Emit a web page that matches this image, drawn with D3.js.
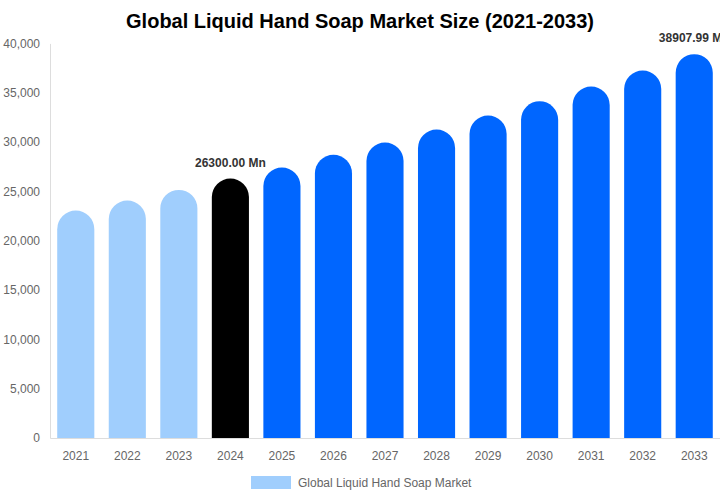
<!DOCTYPE html>
<html>
<head>
<meta charset="utf-8">
<script src="https://cdn.jsdelivr.net/npm/d3@7"></script>
<style>
  body { margin: 0; background: #fff; }
  svg { font-family: "Liberation Sans", Arial, sans-serif; }
</style>
</head>
<body>
<div id="chart"></div>
<script>
var years = ["2021", "2022", "2023", "2024", "2025", "2026", "2027", "2028", "2029", "2030", "2031", "2032", "2033"];
var values = [23050, 24070, 25150, 26300, 27420, 28700, 29950, 31270, 32690, 34140, 35630, 37250, 38907.99];
var yTicks = [0, 5000, 10000, 15000, 20000, 25000, 30000, 35000, 40000];
var labelled = ["2024", "2033"];
var seriesName = "Global Liquid Hand Soap Market";

var w = 720, h = 500;
var plotLeft = 50, plotRight = 720, plotTop = 43.4, plotBottom = 438;

var svg = d3.select("#chart").append("svg")
    .attr("width", w)
    .attr("height", h);

var x = d3.scaleBand().domain(years).range([plotLeft, plotRight])
    .paddingInner(0.28).paddingOuter(0.14);
var y = d3.scaleLinear().domain([0, 40000]).range([plotBottom, plotTop]);

function barColor(yr) {
    if (yr < "2024") return "#a0cefd";
    if (yr == "2024") return "#000000";
    return "#0066ff";
}

// title
svg.append("text")
    .attr("x", 360)
    .attr("y", 28)
    .attr("text-anchor", "middle")
    .attr("font-size", "20px")
    .attr("font-weight", "bold")
    .attr("fill", "#000")
    .text("Global Liquid Hand Soap Market Size (2021-2033)");

// y axis
var yAxis = svg.append("g")
    .attr("transform", "translate(" + plotLeft + ",0)")
    .call(d3.axisLeft(y).tickValues(yTicks).tickSize(0).tickPadding(10).tickFormat(d3.format(",")));
yAxis.select(".domain").attr("stroke", "#dddddd");
yAxis.selectAll("text").attr("fill", "#666").attr("font-size", "12px");

// x axis
var xAxis = svg.append("g")
    .attr("transform", "translate(0," + plotBottom + ")")
    .call(d3.axisBottom(x).tickSize(0).tickPadding(13));
xAxis.select(".domain").attr("stroke", "#dddddd");
xAxis.selectAll("text").attr("fill", "#666").attr("font-size", "12px");

// bars with rounded tops
function barPath(d, i) {
    var x0 = x(years[i]), bw = x.bandwidth(), r = bw / 2;
    var yTop = y(d), yBot = y(0);
    return "M" + x0 + "," + yBot +
        "V" + (yTop + r) +
        "A" + r + "," + r + " 0 0 1 " + (x0 + bw) + "," + (yTop + r) +
        "V" + yBot + "Z";
}

svg.append("g").selectAll("path")
    .data(values)
    .enter()
    .append("path")
    .attr("d", barPath)
    .attr("fill", function(d, i) { return barColor(years[i]); });

// value labels
svg.append("g").selectAll("text")
    .data(values.filter(function(d, i) { return labelled.indexOf(years[i]) >= 0; }))
    .enter()
    .append("text")
    .attr("x", function(d) { return x(years[values.indexOf(d)]) + x.bandwidth() / 2; })
    .attr("y", function(d) { return y(d) - 12; })
    .attr("text-anchor", "middle")
    .attr("font-size", "12px")
    .attr("font-weight", "bold")
    .attr("fill", "#333")
    .text(function(d) { return d.toFixed(2) + " Mn"; });

// legend
var legend = svg.append("g").attr("transform", "translate(251,476)");
legend.append("rect")
    .attr("width", 40)
    .attr("height", 13)
    .attr("fill", "#a0cefd");
legend.append("text")
    .attr("x", 47)
    .attr("y", 11)
    .attr("font-size", "12px")
    .attr("fill", "#666")
    .text(seriesName);
</script>
</body>
</html>
